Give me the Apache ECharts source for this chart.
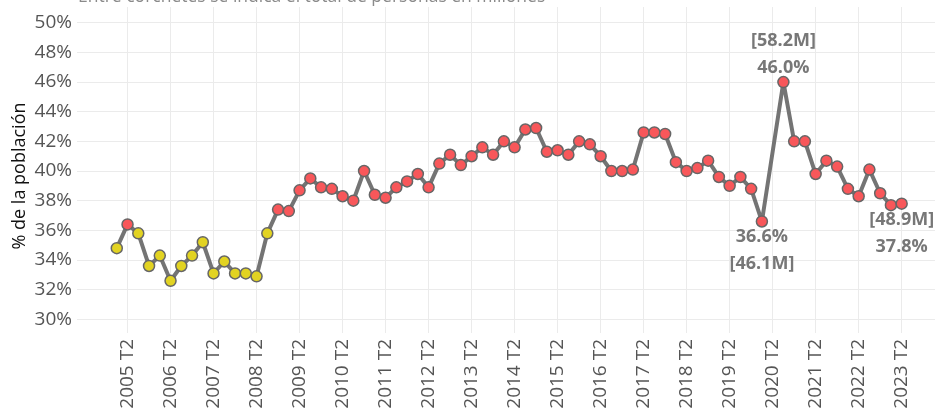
<!DOCTYPE html>
<html><head><meta charset="utf-8">
<script src="https://cdn.jsdelivr.net/npm/echarts@6/dist/echarts.min.js"></script>
<style>html,body{margin:0;padding:0;background:#fff}#c{width:935px;height:412px}</style>
</head><body><div id="c"></div>
<script>
// Quarter labels (one per data position)
const quarters = [
 "2005 T1","2005 T2","2005 T3","2005 T4","2006 T1","2006 T2","2006 T3","2006 T4",
 "2007 T1","2007 T2","2007 T3","2007 T4","2008 T1","2008 T2","2008 T3","2008 T4",
 "2009 T1","2009 T2","2009 T3","2009 T4","2010 T1","2010 T2","2010 T3","2010 T4",
 "2011 T1","2011 T2","2011 T3","2011 T4","2012 T1","2012 T2","2012 T3","2012 T4",
 "2013 T1","2013 T2","2013 T3","2013 T4","2014 T1","2014 T2","2014 T3","2014 T4",
 "2015 T1","2015 T2","2015 T3","2015 T4","2016 T1","2016 T2","2016 T3","2016 T4",
 "2017 T1","2017 T2","2017 T3","2017 T4","2018 T1","2018 T2","2018 T3","2018 T4",
 "2019 T1","2019 T2","2019 T3","2019 T4","2020 T1","2020 T2","2020 T3","2020 T4",
 "2021 T1","2021 T2","2021 T3","2021 T4","2022 T1","2022 T2","2022 T3","2022 T4",
 "2023 T1","2023 T2"
];
// % of population (2020 T2 not available)
const pct = [
 34.8,36.4,35.8,33.6, 34.3,32.6,33.6,34.3, 35.2,33.1,33.9,33.1, 33.1,32.9,35.8,37.4,
 37.3,38.7,39.5,38.9, 38.8,38.3,38.0,40.0, 38.4,38.2,38.9,39.3, 39.8,38.9,40.5,41.1,
 40.4,41.0,41.6,41.1, 42.0,41.6,42.8,42.9, 41.3,41.4,41.1,42.0, 41.8,41.0,40.0,40.0,
 40.1,42.6,42.6,42.5, 40.6,40.0,40.2,40.7, 39.6,39.0,39.6,38.8, 36.6,null,46.0,42.0,
 42.0,39.8,40.7,40.3, 38.8,38.3,40.1,38.5, 37.7,37.8
];
// x tick labels
const xTicks = ["2005 T2","2006 T2","2007 T2","2008 T2","2009 T2","2010 T2","2011 T2","2012 T2","2013 T2","2014 T2",
 "2015 T2","2016 T2","2017 T2","2018 T2","2019 T2","2020 T2","2021 T2","2022 T2","2023 T2"];
// y tick values
const yTicks = [30,32,34,36,38,40,42,44,46,48,50];
// annotated points: quarter, millions of persons
const annotQuarters = ["2020 T1","2020 T3","2023 T2"];
const annotMillions = [46.1, 58.2, 48.9];
const threshold = 36;

const RED = '#F8575A', YEL = '#E2D322';
const labelPos = {"2020 T1":'bottom',"2020 T3":'top',"2023 T2":'bottom'};

const data = [];
pct.forEach((v, i) => {
  if (v === null) return;
  const item = { value: [i, v], itemStyle: { color: v >= threshold ? RED : YEL } };
  const ai = annotQuarters.indexOf(quarters[i]);
  if (ai >= 0) {
    const pos = labelPos[quarters[i]];
    const p = v.toFixed(1) + '%', m = '[' + annotMillions[ai].toFixed(1) + 'M]';
    let txt;
    if (quarters[i] === "2020 T1") txt = p + '\n' + m;
    else txt = m + '\n' + p;
    item.label = { show: true, position: pos, distance: pos === 'top' ? -6 : -4, formatter: txt };
  }
  data.push(item);
});

const xTickVals = xTicks.map(t => quarters.indexOf(t));

const chart = echarts.init(document.getElementById('c'), null, { renderer: 'canvas' });
chart.setOption({
  animation: false,
  backgroundColor: '#fff',
  graphic: [{
    type: 'text', left: 78, top: -12,
    style: { text: 'Entre corchetes se indica el total de personas en millones',
      fill: '#8a8a8a', font: '17.5px "Open Sans"' }
  }, {
    type: 'text', x: 20, y: 176, rotation: Math.PI / 2,
    style: { text: '% de la población', fill: '#111', font: '18px "Open Sans"',
      align: 'center', verticalAlign: 'middle' }
  }],
  grid: { left: 77, right: 0, top: 7, bottom: 79, containLabel: false },
  xAxis: {
    type: 'value', min: -3.7, max: 76.1,
    axisLine: { show: false },
    axisTick: { show: false, customValues: xTickVals },
    axisLabel: { customValues: xTickVals, rotate: 90, margin: 6, color: '#555',
      fontFamily: 'Open Sans', fontSize: 19,
      formatter: v => quarters[Math.round(v)] },
    splitLine: { show: true, lineStyle: { color: '#ebebeb', width: 1 } }
  },
  yAxis: {
    type: 'value', min: 29.08, max: 51.06,
    axisLine: { show: false },
    axisTick: { show: false, customValues: yTicks },
    axisLabel: { customValues: yTicks, margin: 5, color: '#555',
      fontFamily: 'Open Sans', fontSize: 19, formatter: v => v + '%' },
    splitLine: { show: true, lineStyle: { color: '#ebebeb', width: 1 } }
  },
  series: [{
    type: 'line', data: data,
    symbol: 'circle', symbolSize: 11, showAllSymbol: true,
    lineStyle: { color: '#747474', width: 4 },
    itemStyle: { borderColor: '#666', borderWidth: 1.5 },
    label: { color: '#777', fontFamily: 'Open Sans', fontWeight: 'bold', fontSize: 18, lineHeight: 27 },
    emphasis: { disabled: true }
  }]
});
</script></body></html>
